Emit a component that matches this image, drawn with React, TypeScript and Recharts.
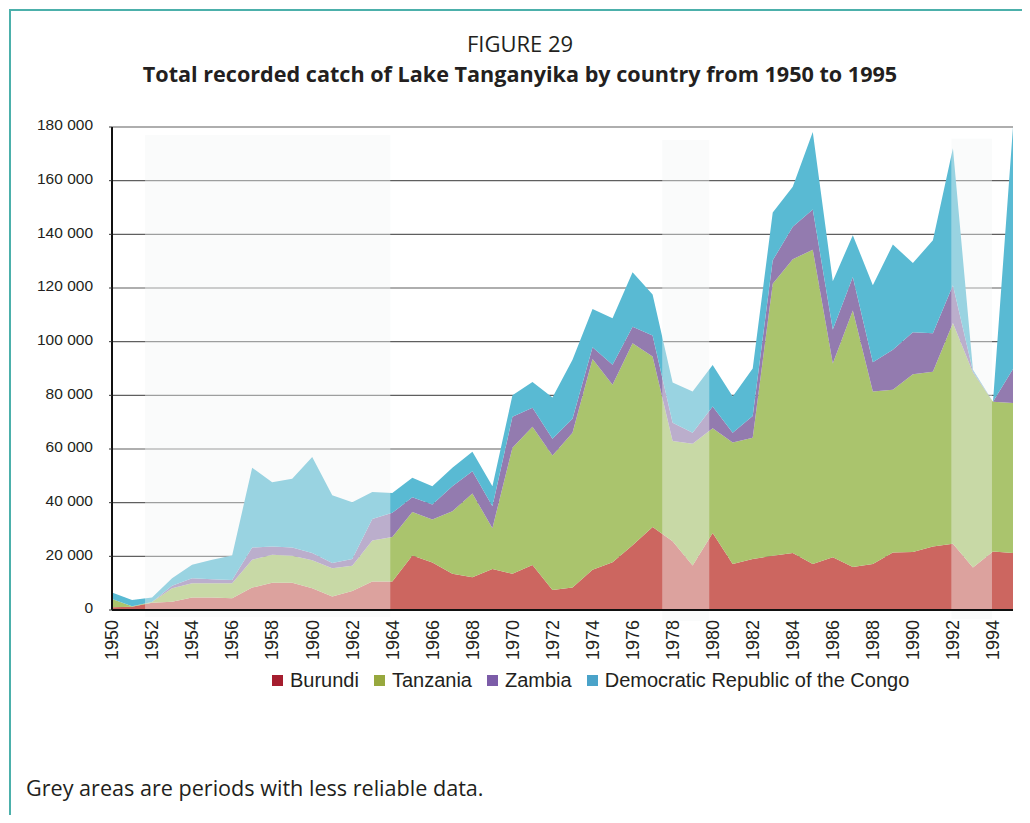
import React from 'react';
import { AreaChart, Area, XAxis, YAxis, CartesianGrid, ReferenceArea } from 'recharts';

const years = [1950, 1951, 1952, 1953, 1954, 1955, 1956, 1957, 1958, 1959, 1960, 1961, 1962, 1963, 1964, 1965, 1966, 1967, 1968, 1969, 1970, 1971, 1972, 1973, 1974, 1975, 1976, 1977, 1978, 1979, 1980, 1981, 1982, 1983, 1984, 1985, 1986, 1987, 1988, 1989, 1990, 1991, 1992, 1993, 1994, 1995];

const burundi = [1000, 1200, 2700, 3100, 4700, 4700, 4400, 8350, 10200, 10200, 8100, 5000, 7100, 10600, 10600, 20300, 17700, 13500, 12200, 15300, 13500, 16800, 7500, 8400, 15000, 17800, 24100, 30900, 25600, 16600, 28700, 17100, 19000, 20200, 21200, 17100, 19700, 16000, 17100, 21400, 21600, 23700, 24700, 15800, 21800, 21200];

const tanzania = [3100, 200, 300, 5000, 5300, 5300, 5600, 10350, 10400, 10000, 10400, 10600, 9400, 15300, 16600, 16200, 16000, 23300, 31200, 15200, 47000, 51500, 50100, 57700, 78500, 66100, 75300, 63600, 37400, 45400, 39000, 45300, 45200, 101400, 109500, 117200, 72200, 95600, 64300, 60700, 66300, 65100, 82300, 72700, 55800, 55900];

const zambia = [0, 0, 0, 900, 1850, 1500, 1200, 4600, 3100, 3100, 2700, 1900, 2500, 8000, 9000, 5500, 5600, 9300, 8300, 8200, 11500, 7100, 6200, 5200, 4400, 7500, 6200, 7800, 6800, 4100, 8100, 3700, 8100, 8700, 12100, 15000, 12600, 12500, 10900, 14900, 15600, 14300, 14000, 500, 0, 12700];

const drc = [2400, 2300, 1700, 2850, 5000, 7200, 9100, 29700, 23900, 25600, 35800, 25300, 21200, 10100, 7400, 7300, 6800, 6900, 7300, 7400, 8000, 9600, 15400, 22000, 14300, 17300, 20300, 15300, 15000, 15300, 15500, 13500, 17700, 17800, 14900, 28800, 18000, 15600, 28700, 39200, 25800, 34700, 51100, 500, 0, 90200];

const seriesKeys = ['burundi', 'tanzania', 'zambia', 'drc'];
const seriesNames = ['Burundi', 'Tanzania', 'Zambia', 'Democratic Republic of the Congo'];
const areaColors = ['#cc6660', '#aac46d', '#937baf', '#59bad3'];
const legendColors = ['#a51d2e', '#97a83e', '#7c5ca8', '#4aa3c9'];

const xTicks = [1950, 1952, 1954, 1956, 1958, 1960, 1962, 1964, 1966, 1968, 1970, 1972, 1974, 1976, 1978, 1980, 1982, 1984, 1986, 1988, 1990, 1992, 1994];
const yTicks = [0, 20000, 40000, 60000, 80000, 100000, 120000, 140000, 160000, 180000];

// less reliable periods (as drawn in the source figure)
const periodStart = [1951.65, 1977.48, 1991.92];
const periodEnd = [1963.9, 1979.83, 1993.95];
const periodTop = [177000, 175200, 175600];
const periodBottom = [-2600, -4100, -3350];

const data = years.map((y, i) => ({
  year: y,
  burundi: burundi[i],
  tanzania: tanzania[i],
  zambia: zambia[i],
  drc: drc[i],
}));

const AXIS_FONT = '"Liberation Sans", Arial, Helvetica, sans-serif';
const TITLE_FONT = '"Open Sans", "Noto Sans", sans-serif';
const TEXT_COLOR = '#231f20';

const XTick = (props: any) => {
  const { x, y, payload } = props;
  return (
    <text
      x={x}
      y={y}
      transform={`rotate(-90, ${x}, ${y})`}
      textAnchor="end"
      dy="0.35em"
      fontSize={18}
      fontFamily={AXIS_FONT}
      fill={TEXT_COLOR}
    >
      {payload.value}
    </text>
  );
};

const fmt = (v: number) => (v === 0 ? '0' : `${Math.round(v / 1000)} 000`);

const YTick = (props: any) => {
  const { x, y, payload } = props;
  return (
    <text
      x={x}
      y={y - 2}
      textAnchor="end"
      dy="0.35em"
      fontSize={15.5}
      fontFamily={AXIS_FONT}
      fill={TEXT_COLOR}
    >
      {fmt(payload.value)}
    </text>
  );
};

export default function App() {
  return (
    <div style={{ position: 'relative', width: 1014, height: 807, background: '#fff' }}>
      <svg
        width={1014}
        height={807}
        style={{ position: 'absolute', left: 0, top: 0, overflow: 'visible' }}
      >
        <line x1={1} y1={2} x2={1022} y2={2} stroke="#4cb0ab" strokeWidth={2} />
        <line x1={2} y1={1} x2={2} y2={815} stroke="#4cb0ab" strokeWidth={2} />
        <text x={512} y={44} textAnchor="middle" fontSize={22} fontFamily={TITLE_FONT} fill={TEXT_COLOR}>
          FIGURE 29
        </text>
        <text x={512} y={74} textAnchor="middle" fontSize={21.6} fontWeight={700} fontFamily={TITLE_FONT} fill={TEXT_COLOR}>
          Total recorded catch of Lake Tanganyika by country from 1950 to 1995
        </text>
        <text x={18} y={788} fontSize={21.6} fontFamily={TITLE_FONT} fill={TEXT_COLOR}>
          Grey areas are periods with less reliable data.
        </text>
      </svg>

      <div style={{ position: 'absolute', left: 0, top: 0 }}>
        <AreaChart
          width={1014}
          height={680}
          data={data}
          margin={{ top: 119, right: 9, bottom: 28, left: 24 }}
        >
          <CartesianGrid vertical={false} stroke="#5f5f5f" strokeWidth={1.2} />
          {seriesKeys.map((k, i) => (
            <Area
              key={k}
              type="linear"
              dataKey={k}
              name={seriesNames[i]}
              stackId="catch"
              fill={areaColors[i]}
              fillOpacity={1}
              stroke="none"
              isAnimationActive={false}
              dot={false}
              activeDot={false}
            />
          ))}
          {periodStart.map((s, i) => (
            <ReferenceArea
              key={`p${i}`}
              x1={s}
              x2={periodEnd[i]}
              y1={periodBottom[i]}
              y2={periodTop[i]}
              ifOverflow="visible"
              fill="#f3f5f5"
              fillOpacity={0.42}
              stroke="none"
              zIndex={150}
            />
          ))}
          <XAxis
            dataKey="year"
            type="number"
            domain={[1950, 1995]}
            ticks={xTicks}
            interval={0}
            allowDataOverflow
            tick={<XTick />}
            tickLine={false}
            tickSize={0}
            tickMargin={10}
            height={50}
            axisLine={{ stroke: '#111', strokeWidth: 2 }}
          />
          <YAxis
            type="number"
            domain={[0, 180000]}
            ticks={yTicks}
            interval={0}
            allowDataOverflow
            tick={<YTick />}
            tickSize={3}
            tickMargin={16}
            tickLine={{ stroke: '#333' }}
            width={80}
            axisLine={{ stroke: '#111', strokeWidth: 2 }}
          />
        </AreaChart>
      </div>

      <div
        style={{
          position: 'absolute',
          left: 264,
          top: 661,
          display: 'flex',
          alignItems: 'center',
          fontFamily: AXIS_FONT,
          fontSize: 20,
          lineHeight: '23px',
          color: TEXT_COLOR,
          whiteSpace: 'nowrap',
        }}
      >
        {seriesNames.map((n, i) => (
          <div key={n} style={{ display: 'flex', alignItems: 'center', marginRight: 15 }}>
            <div style={{ width: 11, height: 11, background: legendColors[i], marginRight: 7 }} />
            <span>{n}</span>
          </div>
        ))}
      </div>
    </div>
  );
}
